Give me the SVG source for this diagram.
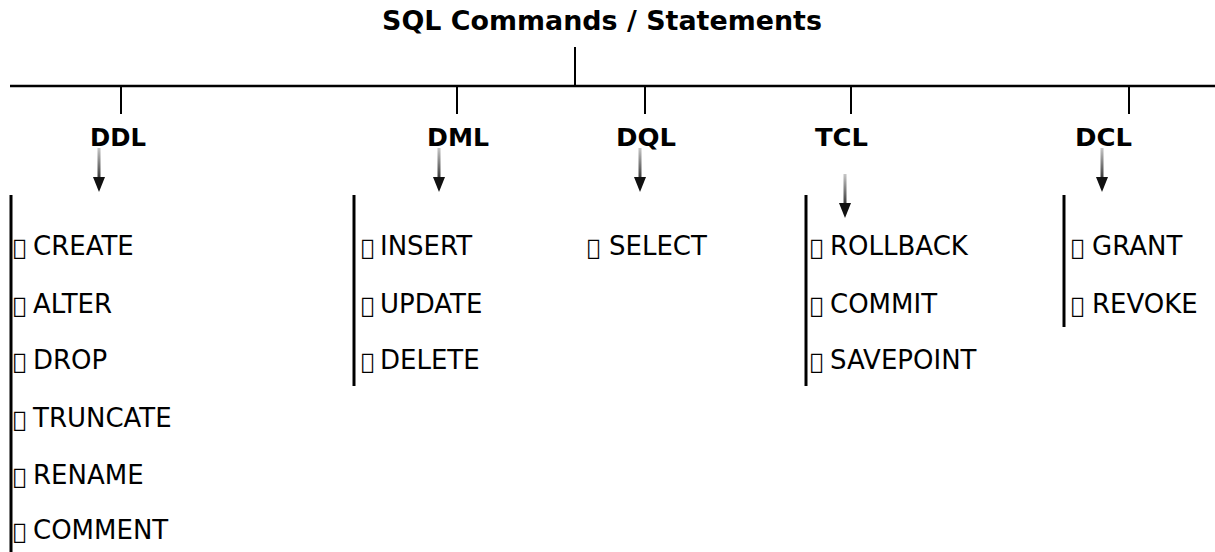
<svg xmlns="http://www.w3.org/2000/svg" width="1215" height="552" viewBox="0 0 1215 552">
<style>
.title{font-family:"DejaVu Sans",Verdana,sans-serif;font-weight:bold;font-size:27px;fill:#000}
.lbl{font-family:"DejaVu Sans",Verdana,sans-serif;font-weight:bold;font-size:24px;fill:#000}
.item{font-family:"DejaVu Sans",Verdana,sans-serif;font-size:26px;fill:#000}
.bx{font-size:22px}
.ln{stroke:#000;stroke-width:2;fill:none}
.bar{stroke:#000;stroke-width:3;fill:none}
</style>
<defs>
<linearGradient id="shaft" x1="0" y1="0" x2="0" y2="1">
<stop offset="0" stop-color="#c8c8c8"/>
<stop offset="1" stop-color="#3a3a3a"/>
</linearGradient>
<g id="arrow">
<rect x="-1.5" y="0" width="3" height="30" fill="url(#shaft)"/>
<polygon points="-6,29 6,29 0,44" fill="#111"/>
</g>
</defs>
<rect width="1215" height="552" fill="#fff"/>
<g id="connectors">
<line class="ln" x1="575" y1="47" x2="575" y2="86"/>
<line x1="10" y1="86" x2="1215" y2="86" stroke="#000" stroke-width="2.5"/>
<line class="ln" x1="121" y1="86" x2="121" y2="114"/>
<line class="ln" x1="457" y1="86" x2="457" y2="114"/>
<line class="ln" x1="645" y1="86" x2="645" y2="114"/>
<line class="ln" x1="851" y1="86" x2="851" y2="114"/>
<line class="ln" x1="1129" y1="86" x2="1129" y2="114"/>
<use href="#arrow" x="99" y="148"/>
<use href="#arrow" x="439" y="148"/>
<use href="#arrow" x="640" y="148"/>
<use href="#arrow" x="845" y="174"/>
<use href="#arrow" x="1102" y="148"/>
<line class="bar" x1="11" y1="195" x2="11" y2="552"/>
<line class="bar" x1="354" y1="195" x2="354" y2="386"/>
<line class="bar" x1="806" y1="195" x2="806" y2="386"/>
<line class="bar" x1="1064" y1="195" x2="1064" y2="327"/>
</g>
<g id="root"><text class="title" x="382" y="30" textLength="440" lengthAdjust="spacingAndGlyphs">SQL Commands / Statements</text></g>
<g id="ddl">
<text class="lbl" x="90" y="146" textLength="56" lengthAdjust="spacingAndGlyphs">DDL</text>
<text class="item" y="255"><tspan class="bx" x="13">&#xF0D8;</tspan><tspan x="33">CREATE</tspan></text>
<text class="item" y="313"><tspan class="bx" x="13">&#xF0D8;</tspan><tspan x="33">ALTER</tspan></text>
<text class="item" y="369"><tspan class="bx" x="13">&#xF0D8;</tspan><tspan x="33">DROP</tspan></text>
<text class="item" y="427"><tspan class="bx" x="13">&#xF0D8;</tspan><tspan x="33">TRUNCATE</tspan></text>
<text class="item" y="484"><tspan class="bx" x="13">&#xF0D8;</tspan><tspan x="33">RENAME</tspan></text>
<text class="item" y="539"><tspan class="bx" x="13">&#xF0D8;</tspan><tspan x="33">COMMENT</tspan></text>
</g>
<g id="dml">
<text class="lbl" x="427" y="146" textLength="62" lengthAdjust="spacingAndGlyphs">DML</text>
<text class="item" y="255"><tspan class="bx" x="361">&#xF0D8;</tspan><tspan x="380">INSERT</tspan></text>
<text class="item" y="313"><tspan class="bx" x="361">&#xF0D8;</tspan><tspan x="380">UPDATE</tspan></text>
<text class="item" y="369"><tspan class="bx" x="361">&#xF0D8;</tspan><tspan x="380">DELETE</tspan></text>
</g>
<g id="dql">
<text class="lbl" x="616" y="146" textLength="60" lengthAdjust="spacingAndGlyphs">DQL</text>
<text class="item" y="255"><tspan class="bx" x="587">&#xF0D8;</tspan><tspan x="609">SELECT</tspan></text>
</g>
<g id="tcl">
<text class="lbl" x="815" y="146" textLength="53" lengthAdjust="spacingAndGlyphs">TCL</text>
<text class="item" y="255"><tspan class="bx" x="810">&#xF0D8;</tspan><tspan x="830">ROLLBACK</tspan></text>
<text class="item" y="313"><tspan class="bx" x="810">&#xF0D8;</tspan><tspan x="830">COMMIT</tspan></text>
<text class="item" y="369"><tspan class="bx" x="810">&#xF0D8;</tspan><tspan x="830">SAVEPOINT</tspan></text>
</g>
<g id="dcl">
<text class="lbl" x="1075" y="146" textLength="57" lengthAdjust="spacingAndGlyphs">DCL</text>
<text class="item" y="255"><tspan class="bx" x="1071">&#xF0D8;</tspan><tspan x="1092">GRANT</tspan></text>
<text class="item" y="313"><tspan class="bx" x="1071">&#xF0D8;</tspan><tspan x="1092">REVOKE</tspan></text>
</g>
</svg>
